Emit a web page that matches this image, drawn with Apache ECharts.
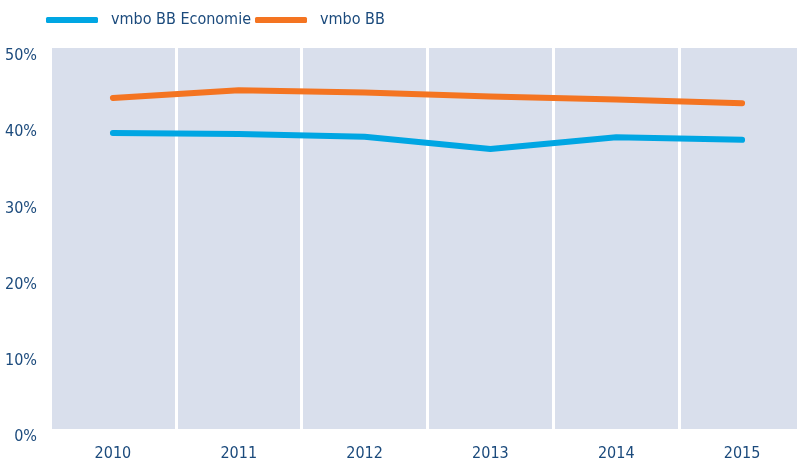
<!DOCTYPE html>
<html>
<head>
<meta charset="utf-8">
<script src="https://cdn.jsdelivr.net/npm/echarts@6/dist/echarts.min.js"></script>
<style>
  html, body { margin: 0; padding: 0; background: #fff; overflow: hidden; }
  /* plot area loopt in het origineel iets buiten beeld door */
  #chart { width: 805px; height: 464px; }
</style>
</head>
<body>
<div id="chart"></div>
<script>
// jaren en percentages
const years = ['2010', '2011', '2012', '2013', '2014', '2015'];
const economie = [38.85, 38.7, 38.35, 36.75, 38.3, 37.95];
const vmboBB = [43.45, 44.45, 44.15, 43.65, 43.25, 42.75];

const textColor = '#1b4a7c';
const font = '"DejaVu Sans Condensed", "Liberation Sans Narrow", sans-serif';

const chart = echarts.init(document.getElementById('chart'));

chart.setOption({
  animation: false,
  textStyle: { fontFamily: font },
  legend: {
    left: 46,
    top: 12,
    padding: 0,
    itemWidth: 52,
    itemHeight: 6,
    itemGap: 4,
    icon: 'roundRect',
    textStyle: { color: textColor, fontSize: 16, fontFamily: font, padding: [0, 0, 0, 8] },
    data: ['vmbo BB Economie', 'vmbo BB']
  },
  grid: {
    left: 50,
    top: 48,
    right: 0,
    bottom: 35,
    show: true,
    backgroundColor: '#d9dfec',
    borderWidth: 0
  },
  xAxis: {
    type: 'category',
    data: years,
    boundaryGap: true,
    axisLine: { show: false },
    axisTick: { show: false },
    axisLabel: { color: textColor, fontSize: 16, margin: 17, fontFamily: font },
    splitLine: { show: true, lineStyle: { color: '#ffffff', width: 3 } }
  },
  yAxis: {
    type: 'value',
    min: 0,
    max: 50,
    interval: 10,
    axisLine: { show: false },
    axisTick: { show: false },
    splitLine: { show: false },
    axisLabel: {
      formatter: '{value}%',
      color: textColor,
      fontSize: 16,
      margin: 13,
      verticalAlign: 'top',
      fontFamily: font
    }
  },
  series: [
    {
      name: 'vmbo BB Economie',
      type: 'line',
      data: economie,
      symbol: 'none',
      color: '#00a6e3',
      lineStyle: { width: 6, cap: 'round', join: 'round' }
    },
    {
      name: 'vmbo BB',
      type: 'line',
      data: vmboBB,
      symbol: 'none',
      color: '#f47421',
      lineStyle: { width: 6, cap: 'round', join: 'round' }
    }
  ]
});
</script>
</body>
</html>
